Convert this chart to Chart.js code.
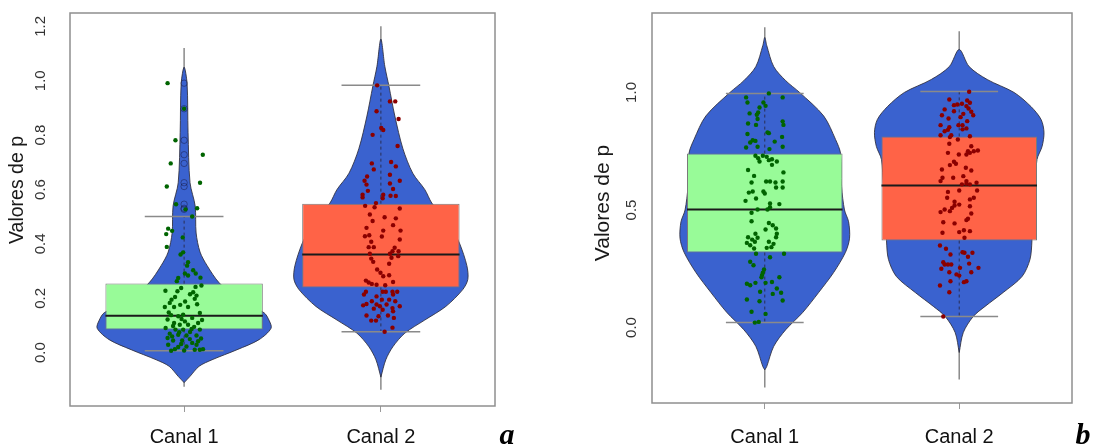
<!DOCTYPE html>
<html>
<head>
<meta charset="utf-8">
<title>Valores de p por canal</title>
<script src="https://cdn.jsdelivr.net/npm/chart.js@4.4.1/dist/chart.umd.min.js"></script>
<style>
  html, body { margin: 0; padding: 0; background: #ffffff; }
  #wrap { position: relative; width: 1094px; height: 445px; overflow: hidden; }
  .pane { position: absolute; top: 0; width: 547px; height: 445px; }
  canvas { display: block; }
</style>
</head>
<body>
<div id="wrap">
  <div class="pane" style="left:0"><canvas id="panelA" width="547" height="445"></canvas></div>
  <div class="pane" style="left:547px"><canvas id="panelB" width="547" height="445"></canvas></div>
</div>
<script>
// ---------- data ----------
const categories = ['Canal 1', 'Canal 2'];
const ticksA = [0, 0.2, 0.4, 0.6, 0.8, 1.0, 1.2];
const ticksB = [0, 0.5, 1.0];

// panel a: box statistics per channel
const q1A = [0.085, 0.240];
const medA = [0.136, 0.361];
const q3A = [0.254, 0.548];
const whiskLoA = [0.007, 0.077];
const whiskHiA = [0.501, 0.983];
const rangeLoA = [-0.125, -0.136];
const rangeHiA = [1.12, 1.20];

// panel b: box statistics per channel
const q1B = [0.319, 0.370];
const medB = [0.502, 0.604];
const q3B = [0.740, 0.813];
const whiskLoB = [0.021, 0.047];
const whiskHiB = [0.996, 1.004];
const rangeLoB = [-0.255, -0.221];
const rangeHiB = [1.277, 1.26];

// violin profiles: p level and half-width of the density (x units)
const violinYA1 = [-0.11, -0.087, -0.05, -0.026, 0.011, 0.048, 0.09, 0.12, 0.147, 0.195, 0.257, 0.32, 0.37, 0.44, 0.54, 0.625, 0.81, 0.99, 1.05];
const violinWA1 = [0, 0.030, 0.076, 0.142, 0.269, 0.381, 0.442, 0.431, 0.406, 0.279, 0.178, 0.117, 0.081, 0.061, 0.056, 0.030, 0.020, 0.015, 0];
const violinYA2 = [-0.09, -0.026, 0.022, 0.072, 0.12, 0.17, 0.232, 0.27, 0.32, 0.40, 0.45, 0.50, 0.55, 0.60, 0.66, 0.75, 0.87, 0.98, 1.053, 1.153];
const violinWA2 = [0, 0.025, 0.061, 0.122, 0.223, 0.330, 0.416, 0.442, 0.437, 0.401, 0.365, 0.315, 0.259, 0.223, 0.162, 0.112, 0.071, 0.041, 0.020, 0];
const violinYB1 = [-0.18, -0.166, -0.08, -0.009, 0.064, 0.149, 0.234, 0.32, 0.38, 0.45, 0.50, 0.60, 0.74, 0.80, 0.90, 1.0, 1.05, 1.11, 1.20, 1.234];
const violinWB1 = [0, 0.010, 0.046, 0.108, 0.195, 0.277, 0.354, 0.415, 0.436, 0.431, 0.410, 0.395, 0.390, 0.364, 0.303, 0.179, 0.108, 0.046, 0.010, 0];
const violinYB2 = [-0.106, -0.021, 0.047, 0.09, 0.149, 0.217, 0.29, 0.37, 0.50, 0.60, 0.715, 0.77, 0.83, 0.885, 0.94, 1.0, 1.055, 1.11, 1.183];
const violinWB2 = [0, 0.021, 0.072, 0.133, 0.226, 0.323, 0.364, 0.374, 0.379, 0.390, 0.400, 0.426, 0.436, 0.421, 0.369, 0.282, 0.144, 0.051, 0];

// observed p values and their horizontal jitter (x units)
const pA1 = [0.991, 0.897, 0.781, 0.728, 0.696, 0.611, 0.625, 0.546, 0.531, 0.527, 0.501, 0.456, 0.436, 0.448, 0.389, 0.424, 0.369, 0.361, 0.333, 0.320,
  0.303, 0.291, 0.284, 0.275, 0.263, 0.291, 0.276, 0.226, 0.228, 0.242, 0.247, 0.222, 0.210, 0.198, 0.195, 0.183, 0.168, 0.168, 0.168, 0.146,
  0.148, 0.134, 0.124, 0.115, 0.109, 0.122, 0.103, 0.103, 0.109, 0.091, 0.085, 0.085, 0.087, 0.085, 0.070, 0.066, 0.063, 0.063, 0.054, 0.045,
  0.045, 0.050, 0.042, 0.029, 0.021, 0.023, 0.029, 0.011, 0.013, 0.013, 0.011, 0.238, 0.215, 0.205, 0.188, 0.176, 0.178, 0.138, 0.128, 0.140,
  0.120, 0.098, 0.095, 0.075, 0.076, 0.060, 0.052, 0.032, 0.036, 0.007, 0.008];
const jA1 = [-0.084, 0, -0.044, 0.095, -0.068, -0.088, 0.081, -0.041, 0.066, 0.007, 0.041, -0.081, -0.091, -0.061, -0.088, -0.007, -0.005, -0.018, 0.020, 0.015,
  0.046, 0.004, 0.020, -0.030, -0.037, 0.059, 0.083, -0.034, -0.095, 0.058, 0.088, 0.046, 0.063, 0.054, -0.064, -0.073, -0.051, 0.020, -0.098, 0.080,
  -0.078, -0.030, -0.013, 0.004, -0.051, -0.084, -0.022, 0.020, 0.071, -0.094, -0.044, -0.005, 0.038, 0.080, -0.073, -0.030, 0.012, 0.063, -0.084, -0.056,
  -0.010, 0.029, 0.071, -0.081, -0.030, 0.012, 0.063, 0.080, 0.096, -0.047, 0.054, -0.015, 0.030, -0.046, 0.005, -0.020, 0.066, -0.066, 0.041, -0.005,
  0.091, -0.056, 0.051, -0.025, 0.030, -0.061, 0.086, -0.015, 0.041, -0.066, 0];

const pA2 = [0.983, 0.924, 0.924, 0.888, 0.859, 0.826, 0.819, 0.801, 0.760, 0.696, 0.701, 0.674, 0.685, 0.654, 0.648, 0.632, 0.632, 0.618, 0.622, 0.602,
  0.595, 0.581, 0.571, 0.581, 0.568, 0.577, 0.576, 0.550, 0.540, 0.535, 0.530, 0.508, 0.498, 0.494, 0.484, 0.459, 0.469, 0.449, 0.449, 0.428,
  0.432, 0.427, 0.416, 0.408, 0.388, 0.388, 0.386, 0.373, 0.373, 0.364, 0.364, 0.346, 0.349, 0.355, 0.327, 0.334, 0.306, 0.294, 0.285, 0.281,
  0.265, 0.258, 0.253, 0.250, 0.260, 0.248, 0.224, 0.224, 0.224, 0.224, 0.224, 0.214, 0.207, 0.214, 0.195, 0.195, 0.189, 0.179, 0.189, 0.174,
  0.177, 0.177, 0.171, 0.162, 0.158, 0.164, 0.171, 0.152, 0.137, 0.134, 0.137, 0.128, 0.118, 0.118, 0.077, 0.092];
const jA2 = [-0.019, 0.046, 0.073, -0.022, 0.090, 0.002, 0.012, -0.042, 0.085, -0.046, 0.052, -0.036, 0.076, 0.046, -0.070, -0.083, 0.096, -0.073, 0.046, 0.062,
  -0.066, -0.093, -0.093, 0.012, 0.009, 0.049, 0.076, -0.025, -0.080, -0.032, 0.096, -0.056, 0.019, 0.076, -0.042, -0.073, 0.062, 0.012, 0.100, -0.081,
  -0.059, 0.005, 0.096, -0.049, -0.062, -0.036, 0.070, 0.059, 0.090, 0.046, -0.056, -0.049, 0.054, 0.088, 0.042, -0.039, -0.019, -0.002, 0.042, 0.012,
  -0.076, -0.062, -0.046, -0.022, 0.062, 0.022, -0.076, 0.009, 0.025, 0.059, 0.083, -0.086, -0.022, 0.062, 0.005, 0.042, 0.073, -0.073, -0.046, -0.090,
  0.029, -0.022, -0.005, -0.036, 0.009, 0.059, 0.096, 0.062, -0.073, -0.012, 0.036, 0.066, -0.049, -0.025, 0.019, 0.059];

const pB1 = [0.996, 0.979, 0.979, 0.957, 0.957, 0.943, 0.936, 0.915, 0.911, 0.905, 0.887, 0.868, 0.862, 0.877, 0.862, 0.823, 0.830, 0.827, 0.811, 0.797,
  0.794, 0.787, 0.791, 0.766, 0.769, 0.759, 0.769, 0.731, 0.720, 0.731, 0.726, 0.712, 0.716, 0.706, 0.706, 0.692, 0.670, 0.645, 0.660, 0.621,
  0.621, 0.617, 0.621, 0.617, 0.596, 0.596, 0.579, 0.574, 0.579, 0.570, 0.549, 0.539, 0.528, 0.525, 0.488, 0.502, 0.502, 0.512, 0.452, 0.445,
  0.435, 0.417, 0.421, 0.399, 0.399, 0.384, 0.384, 0.382, 0.374, 0.360, 0.365, 0.365, 0.350, 0.356, 0.339, 0.336, 0.342, 0.314, 0.299, 0.314,
  0.280, 0.265, 0.247, 0.233, 0.223, 0.214, 0.214, 0.186, 0.180, 0.190, 0.190, 0.194, 0.166, 0.152, 0.143, 0.148, 0.119, 0.115, 0.112, 0.067,
  0.058, 0.021, 0.024];
const jB1 = [0.021, -0.096, 0.092, -0.007, -0.089, 0.004, -0.027, -0.034, -0.078, -0.041, -0.037, -0.086, -0.045, 0.092, 0.096, -0.089, 0.014, 0.021, 0.089, -0.062,
  -0.048, -0.075, 0.051, -0.096, -0.037, 0.024, 0.092, -0.048, -0.034, -0.010, 0.010, 0.021, 0.037, -0.027, 0.062, 0.037, -0.086, -0.055, 0.096, 0.007,
  0.027, 0.055, 0.092, -0.068, 0.058, 0.092, -0.062, -0.082, -0.007, 0, -0.045, -0.099, 0.027, 0.075, -0.068, -0.037, 0.014, 0.027, -0.068, 0.021,
  0.041, 0.004, 0.058, 0.062, -0.048, 0.058, -0.086, -0.037, -0.065, -0.092, -0.051, 0.021, -0.075, 0.045, 0.010, -0.055, 0.034, -0.045, 0.027, 0.099,
  -0.075, -0.058, -0.004, -0.010, -0.014, -0.017, 0.075, -0.092, -0.075, -0.048, 0.004, 0.037, 0.062, -0.024, 0.041, 0.084, -0.092, 0.092, -0.027, -0.068,
  0.004, -0.051, -0.031];

const pB2 = [1.003, 0.970, 0.966, 0.956, 0.946, 0.949, 0.952, 0.942, 0.928, 0.932, 0.918, 0.920, 0.909, 0.903, 0.903, 0.895, 0.889, 0.878, 0.861, 0.861,
  0.861, 0.852, 0.841, 0.847, 0.843, 0.835, 0.818, 0.810, 0.818, 0.814, 0.800, 0.782, 0.771, 0.750, 0.743, 0.750, 0.753, 0.736, 0.743, 0.736,
  0.705, 0.697, 0.691, 0.672, 0.680, 0.668, 0.637, 0.637, 0.644, 0.623, 0.623, 0.609, 0.612, 0.609, 0.616, 0.577, 0.583, 0.583, 0.552, 0.535,
  0.545, 0.552, 0.491, 0.502, 0.495, 0.519, 0.523, 0.509, 0.516, 0.485, 0.463, 0.457, 0.448, 0.443, 0.414, 0.406, 0.403, 0.410, 0.382, 0.349,
  0.335, 0.320, 0.318, 0.311, 0.318, 0.301, 0.278, 0.268, 0.268, 0.268, 0.272, 0.250, 0.254, 0.254, 0.235, 0.235, 0.226, 0.221, 0.197, 0.193,
  0.197, 0.179, 0.150, 0.047];
const jB2 = [0.051, -0.051, 0.041, 0.055, -0.027, -0.010, 0.014, 0.037, -0.075, 0.048, 0.062, -0.027, 0.021, -0.089, 0.072, 0.007, -0.055, 0.041, -0.096, -0.004,
  0.017, -0.051, -0.058, 0.037, 0.017, -0.075, -0.041, -0.048, -0.096, 0.055, -0.007, -0.051, 0.062, 0.045, 0.055, 0.075, 0.096, 0.037, -0.058, -0.002,
  -0.027, -0.017, -0.048, -0.089, 0.034, 0.062, -0.086, -0.031, 0.021, 0.037, -0.096, 0.014, 0.037, 0.055, 0.089, -0.058, 0, 0.092, -0.062, -0.024,
  0.055, 0.075, -0.096, -0.075, -0.048, -0.024, 0, -0.037, 0.055, 0.062, 0.045, 0.037, -0.082, -0.024, 0.024, 0, -0.086, 0.055, 0.027, -0.099,
  -0.068, 0.017, 0.027, -0.045, 0.068, 0.045, -0.082, -0.058, -0.075, -0.041, 0.051, -0.092, 0.099, 0.004, -0.051, 0.062, -0.014, 0, -0.045, 0.024,
  0.037, -0.099, -0.051, -0.082];

// ---------- drawing ----------
const FONT = '"Liberation Sans", Arial, sans-serif';
const BOX_HALF = 0.4;   // half box width (x units)
const CAP_HALF = 0.2;   // half whisker-cap width (x units)

// segments -> one line dataset, broken by null points
function segmentData(list) {
  const out = [];
  list.forEach((s, i) => {
    if (i) out.push({ x: s[0][0], y: null });
    out.push({ x: s[0][0], y: s[0][1] }, { x: s[1][0], y: s[1][1] });
  });
  return out;
}

// closed violin outline around centre c
function violinData(c, ys, ws) {
  const right = ys.map((y, k) => ({ x: c + ws[k], y }));
  const left = [];
  for (let k = ys.length - 2; k >= 0; k--) left.push({ x: c - ws[k], y: ys[k] });
  return right.concat(left);
}

const decor = {
  id: 'panelDecor',
  beforeDatasetsDraw(chart, args, o) {
    const { ctx, chartArea: a } = chart;
    ctx.save();
    ctx.strokeStyle = '#8f8f8f';
    ctx.lineWidth = 1.5;
    ctx.strokeRect(a.left, a.top, a.right - a.left, a.bottom - a.top);
    ctx.restore();
  },
  afterDraw(chart, args, o) {
    const ctx = chart.ctx;
    ctx.save();
    ctx.fillStyle = '#1a1a1a';
    ctx.translate(o.titleX, o.titleY);
    ctx.rotate(-Math.PI / 2);
    ctx.font = o.titleSize + 'px ' + FONT;
    ctx.textAlign = 'center';
    ctx.textBaseline = 'middle';
    ctx.fillText(o.title, 0, 0);
    ctx.restore();
    ctx.save();
    ctx.fillStyle = '#000000';
    ctx.font = 'italic bold 30px "Liberation Serif", "DejaVu Serif", serif';
    ctx.textAlign = 'center';
    ctx.textBaseline = 'alphabetic';
    ctx.fillText(o.letter, o.letterX, o.letterY);
    ctx.restore();
  }
};

function makePanel(id, s) {
  const centers = [1, 2];
  const datasets = [];

  // jittered observations (top layer)
  s.values.forEach((vals, i) => {
    datasets.push({
      type: 'scatter', order: 1,
      data: vals.map((v, k) => ({ x: centers[i] + s.jitter[i][k], y: v })),
      backgroundColor: s.pointColors[i], borderWidth: 0, pointRadius: 2.2
    });
  });

  // boxplot outliers at the centre line
  datasets.push({
    type: 'scatter', order: 2,
    data: [].concat(...s.values.map((vals, i) =>
      vals.filter(v => v > s.hi[i] || v < s.lo[i]).map(v => ({ x: centers[i], y: v })))),
    backgroundColor: 'rgba(0,0,0,0)', borderColor: 'rgba(20,20,55,0.45)',
    borderWidth: 1, pointRadius: 3.2
  });

  // medians
  datasets.push({
    type: 'line', order: 3,
    data: segmentData(centers.map((c, i) => [[c - BOX_HALF, s.med[i]], [c + BOX_HALF, s.med[i]]])),
    borderColor: '#1a1a1a', borderWidth: 2, pointRadius: 0, tension: 0
  });

  // whisker caps
  datasets.push({
    type: 'line', order: 4,
    data: segmentData([].concat(...centers.map((c, i) => [
      [[c - CAP_HALF, s.hi[i]], [c + CAP_HALF, s.hi[i]]],
      [[c - CAP_HALF, s.lo[i]], [c + CAP_HALF, s.lo[i]]]]))),
    borderColor: '#8a8a8a', borderWidth: 1.5, pointRadius: 0, tension: 0
  });

  // dashed whiskers
  datasets.push({
    type: 'line', order: 5,
    data: segmentData([].concat(...centers.map((c, i) => [
      [[c, s.q3[i]], [c, s.hi[i]]],
      [[c, s.q1[i]], [c, s.lo[i]]]]))),
    borderColor: '#2a2f55', borderWidth: 1, borderDash: [3, 3], pointRadius: 0, tension: 0
  });

  // boxes (Q1..Q3)
  datasets.push({
    type: 'bar', order: 6,
    data: centers.map((c, i) => ({ x: c, y: [s.q1[i], s.q3[i]] })),
    backgroundColor: s.boxColors, borderColor: '#7a7a7a', borderWidth: 1,
    borderSkipped: false, barPercentage: 2 * BOX_HALF, categoryPercentage: 1, grouped: false
  });

  // violins
  s.violins.forEach((v, i) => {
    datasets.push({
      type: 'line', order: 7,
      data: violinData(centers[i], v[0], v[1]),
      fill: 'shape', backgroundColor: '#3a62cf', borderColor: 'rgba(45,45,60,0.85)',
      borderWidth: 1, pointRadius: 0, tension: 0.3
    });
  });

  // full-range centre lines (bottom layer)
  datasets.push({
    type: 'line', order: 8,
    data: segmentData(centers.map((c, i) => [[c, s.rangeLo[i]], [c, s.rangeHi[i]]])),
    borderColor: '#8a8a8a', borderWidth: 1.5, pointRadius: 0, tension: 0
  });

  return new Chart(document.getElementById(id), {
    type: 'bar',
    data: { datasets },
    plugins: [decor],
    options: {
      responsive: false, animation: false, events: [],
      layout: { padding: { left: 0, right: s.padRight, top: 13, bottom: 0 } },
      plugins: {
        legend: { display: false },
        tooltip: { enabled: false },
        panelDecor: s.decor
      },
      scales: {
        x: {
          type: 'linear', min: 0.42, max: 2.58, offset: false,
          afterBuildTicks: sc => { sc.ticks = centers.map(v => ({ value: v })); },
          afterFit: sc => { sc.height = s.xAxisHeight; sc.paddingLeft = 0; sc.paddingRight = 0; },
          ticks: {
            callback: v => categories[Math.round(v) - 1],
            font: { family: FONT, size: 20 }, color: '#111111',
            padding: s.xPad, autoSkip: false, maxRotation: 0
          },
          grid: { display: true, offset: false, drawOnChartArea: false, drawTicks: true, tickLength: 6, color: '#9a9a9a', lineWidth: 1 },
          border: { display: false }
        },
        y: {
          type: 'linear', min: s.yMin, max: s.yMax,
          afterBuildTicks: sc => { sc.ticks = s.ticks.map(v => ({ value: v })); },
          afterFit: sc => { sc.width = s.yAxisWidth; sc.paddingTop = 0; sc.paddingBottom = 0; },
          ticks: {
            callback: v => Number(v).toFixed(1),
            minRotation: 90, maxRotation: 90, crossAlign: 'center', autoSkip: false,
            padding: s.yPad, font: { family: FONT, size: 15 }, color: '#333333'
          },
          grid: { display: false, drawTicks: false },
          border: { display: false }
        }
      }
    }
  });
}

makePanel('panelA', {
  values: [pA1, pA2], jitter: [jA1, jA2],
  q1: q1A, med: medA, q3: q3A, lo: whiskLoA, hi: whiskHiA, rangeLo: rangeLoA, rangeHi: rangeHiA,
  violins: [[violinYA1, violinWA1], [violinYA2, violinWA2]],
  pointColors: ['#006400', '#8b0000'], boxColors: ['#98fb98', '#ff6347'],
  ticks: ticksA, yMin: -0.196, yMax: 1.249,
  yAxisWidth: 70, yPad: 19, xAxisHeight: 39, xPad: 13, padRight: 52,
  decor: { title: 'Valores de p', titleX: 18, titleY: 190, titleSize: 19.5, letter: 'a', letterX: 507, letterY: 444 }
});

makePanel('panelB', {
  values: [pB1, pB2], jitter: [jB1, jB2],
  q1: q1B, med: medB, q3: q3B, lo: whiskLoB, hi: whiskHiB, rangeLo: rangeLoB, rangeHi: rangeHiB,
  violins: [[violinYB1, violinWB1], [violinYB2, violinWB2]],
  pointColors: ['#006400', '#8b0000'], boxColors: ['#98fb98', '#ff6347'],
  ticks: ticksB, yMin: -0.321, yMax: 1.338,
  yAxisWidth: 105, yPad: 10, xAxisHeight: 42, xPad: 16, padRight: 22,
  decor: { title: 'Valores de p', titleX: 56, titleY: 203, titleSize: 21, letter: 'b', letterX: 536, letterY: 444 }
});
</script>
</body>
</html>
